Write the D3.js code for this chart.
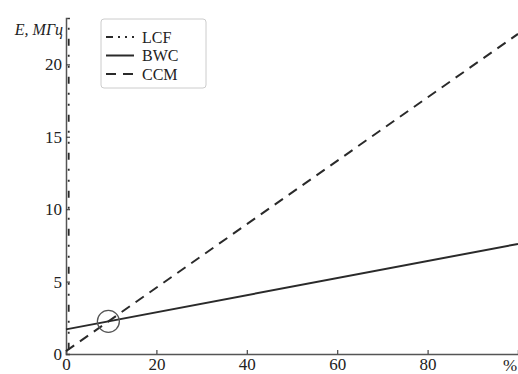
<!DOCTYPE html>
<html>
<head>
<meta charset="utf-8">
<script src="https://cdn.jsdelivr.net/npm/d3@7"></script>
<style>
  body { margin: 0; background: #fff; }
  svg text { font-family: "Liberation Serif", "DejaVu Serif", serif !important; }
</style>
</head>
<body>
<div id="chart"></div>
<script>
// tick values
var xTicks = [0, 20, 40, 60, 80];
var yTicks = [0, 5, 10, 15, 20];

// series (x in %, E in MHz)
var lcf = [[0.6, 0.3], [0.6, 23.2]];
var bwc = [[0, 1.7], [100, 7.6]];
var ccm = [[0, 0.2], [100, 22.1]];

var legendNames = ["LCF", "BWC", "CCM"];
var dashes = ["7,9,2,9,2,9", null, "10,7"];

var width = 518, height = 374;

var svg = d3.select("#chart")
    .append("svg")
    .attr("width", width)
    .attr("height", height);

var x = d3.scaleLinear().domain([0, 100]).range([66, 518]);
var y = d3.scaleLinear().domain([0, 23.2]).range([354, 18]);

// axes
var xAxis = d3.axisBottom(x).tickValues(xTicks).tickSize(-4).tickPadding(4).tickFormat(d3.format("d"));
var yAxis = d3.axisLeft(y).tickValues(yTicks).tickSize(-4).tickPadding(4).tickFormat(d3.format("d"));

var gx = svg.append("g").attr("transform", "translate(0," + y(0) + ")").call(xAxis);
var gy = svg.append("g").attr("transform", "translate(" + x(0) + ",0)").call(yAxis);

[gx, gy].forEach(function (g) {
    g.attr("font-size", 17);
    g.select(".domain").attr("stroke", "#555").attr("stroke-width", 1.5);
    g.selectAll(".tick line").attr("stroke", "#444").attr("stroke-width", 1.2);
    g.selectAll(".tick text").attr("fill", "#222");
});

// axis titles
svg.append("text")
    .attr("x", 503).attr("y", 371)
    .attr("font-size", 17)
    .attr("fill", "#222")
    .text("%");

svg.append("text")
    .attr("x", 63).attr("y", 35)
    .attr("text-anchor", "end")
    .attr("font-size", 16)
    .attr("font-style", "italic")
    .attr("fill", "#222")
    .text("E, МГц");

// lines
var line = d3.line()
    .x(function (d) { return x(d[0]); })
    .y(function (d) { return y(d[1]); });

var series = [lcf, bwc, ccm];
series.forEach(function (s, i) {
    svg.append("path")
        .datum(s)
        .attr("d", line)
        .attr("fill", "none")
        .attr("stroke", "#2a2a2a")
        .attr("stroke-width", i === 0 ? 1.8 : 2)
        .attr("stroke-dasharray", dashes[i]);
});

// circle at the BWC / CCM crossing
var k1 = (bwc[1][1] - bwc[0][1]) / (bwc[1][0] - bwc[0][0]);
var k2 = (ccm[1][1] - ccm[0][1]) / (ccm[1][0] - ccm[0][0]);
var xc = (ccm[0][1] - bwc[0][1]) / (k1 - k2);
var yc = bwc[0][1] + k1 * xc;
svg.append("circle")
    .attr("cx", x(xc))
    .attr("cy", y(yc))
    .attr("r", 11)
    .attr("fill", "none")
    .attr("stroke", "#555")
    .attr("stroke-width", 1.3);

// legend
var lg = svg.append("g").attr("transform", "translate(101,19)");
lg.append("rect")
    .attr("width", 105).attr("height", 69)
    .attr("rx", 3)
    .attr("fill", "#fff")
    .attr("stroke", "#ccc")
    .attr("stroke-width", 1);

legendNames.forEach(function (name, i) {
    var yy = 18 + i * 18.5;
    lg.append("line")
        .attr("x1", 5).attr("x2", 33)
        .attr("y1", yy).attr("y2", yy)
        .attr("stroke", "#2a2a2a")
        .attr("stroke-width", 2)
        .attr("stroke-dasharray", i === 0 ? "7,5,2,5,2,5" : dashes[i]);
    lg.append("text")
        .attr("x", 41).attr("y", yy)
        .attr("dy", "0.35em")
        .attr("font-size", 16)
        .attr("fill", "#222")
        .text(name);
});
</script>
</body>
</html>
